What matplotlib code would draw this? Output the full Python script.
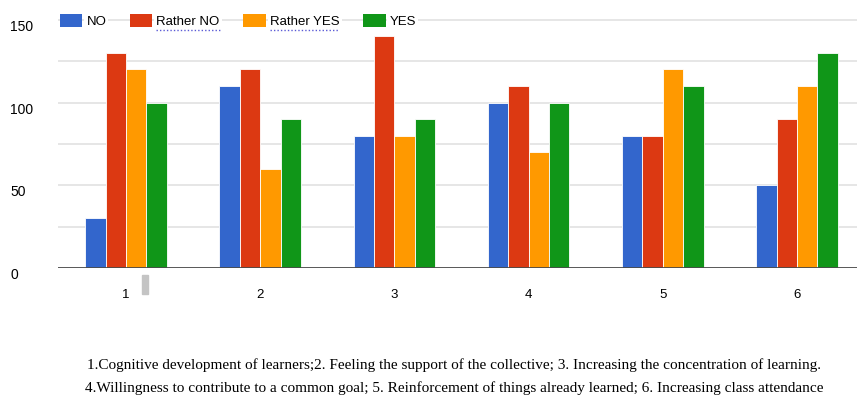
import matplotlib
matplotlib.use("Agg")
import matplotlib.pyplot as plt
import numpy as np
from matplotlib.patches import Patch, Rectangle
from matplotlib.lines import Line2D

# survey answers per statement
groups = ["1", "2", "3", "4", "5", "6"]
series = ["NO", "Rather NO", "Rather YES", "YES"]
no_vals = [30, 110, 80, 100, 80, 50]
rather_no_vals = [130, 120, 140, 110, 80, 90]
rather_yes_vals = [120, 60, 80, 70, 120, 110]
yes_vals = [100, 90, 90, 100, 110, 130]
colors = ["#3366cc", "#dc3912", "#ff9900", "#109618"]
yticks = [0, 50, 100, 150]
caption = [
    "1.Cognitive development of learners;2. Feeling the support of the collective; "
    "3. Increasing the concentration of learning.",
    "4.Willingness to contribute to a common goal; 5. Reinforcement of things already "
    "learned; 6. Increasing class attendance",
]

W, H = 857, 400
fig = plt.figure(figsize=(W / 100, H / 100), dpi=100)
ax = fig.add_axes([58 / W, 1 - 268 / H, (W - 58) / W, 268 / H])

x = np.arange(1, len(groups) + 1)
bw = 0.152
for i, vals in enumerate([no_vals, rather_no_vals, rather_yes_vals, yes_vals]):
    ax.bar(x + (i - 1.5) * bw, vals, width=bw, color=colors[i],
           edgecolor="white", linewidth=0.6, zorder=3)

ax.set_xlim(0.493, 6.447)
ax.set_ylim(0, 162)
ax.set_yticks(yticks)
ax.set_yticks(np.arange(25, 160, 25), minor=True)
ax.grid(axis="y", which="both", color="#e2e2e2", lw=1.2, zorder=0)
ax.axhline(0, color="#4a4a4a", lw=2, zorder=4)
for s in ax.spines.values():
    s.set_visible(False)

# y labels are left aligned near the figure edge
ax.tick_params(axis="y", which="both", length=0, pad=34.5, labelsize=10)
for lab in ax.get_yticklabels():
    lab.set_fontfamily("Liberation Sans")
    lab.set_va("top")
    lab.set_ha("left")
ax.set_xticks(x)
ax.set_xticklabels(groups, fontfamily="Liberation Sans", fontsize=9.5)
ax.tick_params(axis="x", length=0, pad=15)

# small grey marker below the first group
ax.add_patch(Rectangle((1.12, -4.5), 0.045, -11, color="#c4c4c4",
                       clip_on=False, zorder=2))

handles = [Patch(facecolor=c, edgecolor="none") for c in colors]
leg = ax.legend(handles, series, ncol=4, loc="center left",
                bbox_to_anchor=(0.0025, 1 - 21 / 268), frameon=False,
                borderpad=0, borderaxespad=0, handlelength=1.7,
                handleheight=1.2, handletextpad=0.3, columnspacing=1.8,
                prop={"family": "Liberation Sans", "size": 9.5})
for t in leg.get_texts():
    t.set_bbox(dict(facecolor="white", edgecolor="none", pad=1.5))

fig.text(0.53, 1 - 365 / H, caption[0], ha="center", va="center",
         fontfamily="Liberation Serif", fontsize=11)
fig.text(0.53, 1 - 388 / H, caption[1], ha="center", va="center",
         fontfamily="Liberation Serif", fontsize=11)

# dotted underline under the two-word legend entries
fig.canvas.draw()
r = fig.canvas.get_renderer()
for t in leg.get_texts()[1:3]:
    bb = t.get_window_extent(r)
    fig.add_artist(Line2D([bb.x0, bb.x1], [bb.y0 - 2, bb.y0 - 2],
                          transform=None, color="#5b5bd6", lw=1,
                          linestyle=(0, (1, 1.5))))

fig.savefig("out.png", dpi=100)
